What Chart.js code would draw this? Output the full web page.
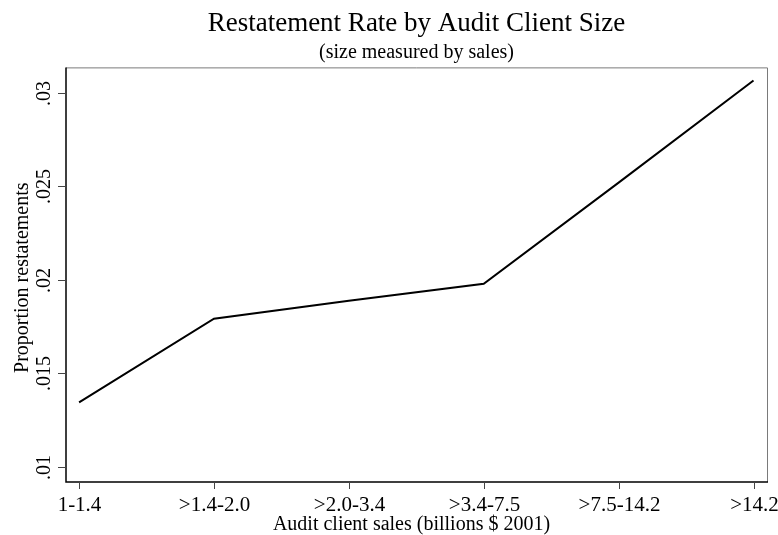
<!DOCTYPE html>
<html>
<head>
<meta charset="utf-8">
<script src="https://cdn.jsdelivr.net/npm/chart.js@4/dist/chart.umd.min.js"></script>
<style>
  html, body { margin: 0; padding: 0; background: #fff; }
  #wrap { width: 778px; height: 535px; }
</style>
</head>
<body>
<div id="wrap"><canvas id="chart"></canvas></div>
<script>
// chart data
let categories = ["1-1.4", ">1.4-2.0", ">2.0-3.4", ">3.4-7.5", ">7.5-14.2", ">14.2"];
let restateRate = [0.01346, 0.01793, 0.01889, 0.0198, 0.0252, 0.03066];
let yTicks = [0.01, 0.015, 0.02, 0.025, 0.03];
let yTickLabels = [".01", ".015", ".02", ".025", ".03"];

let serif = "'Liberation Serif', 'Times New Roman', serif";

// axes, ticks and labels drawn by hand so they sit like the Stata original
let axesPlugin = {
    id: "stataAxes",
    afterDraw: function(chart) {
        let ctx = chart.ctx;
        let xs = chart.scales.x, ys = chart.scales.y;
        let a = chart.chartArea;
        ctx.save();

        // outer box: top and right lighter
        ctx.strokeStyle = "#7a7a7a";
        ctx.lineWidth = 1;
        ctx.beginPath();
        ctx.moveTo(a.left, a.top + 0.5);
        ctx.lineTo(a.right + 0.5, a.top + 0.5);
        ctx.lineTo(a.right + 0.5, a.bottom);
        ctx.stroke();

        ctx.strokeStyle = "#000";
        ctx.lineWidth = 1.5;
        ctx.beginPath();
        ctx.moveTo(a.left, a.top);
        ctx.lineTo(a.left, a.bottom);
        ctx.lineTo(a.right + 1, a.bottom);
        ctx.stroke();

        // y ticks
        ctx.fillStyle = "#000";
        ctx.font = "20px " + serif;
        ctx.textAlign = "center";
        ctx.textBaseline = "middle";
        ctx.strokeStyle = "#444";
        ctx.lineWidth = 1;
        yTicks.forEach(function(v, i) {
            let py = Math.round(ys.getPixelForValue(v)) + 0.5;
            ctx.beginPath();
            ctx.moveTo(a.left - 8, py);
            ctx.lineTo(a.left, py);
            ctx.stroke();
            ctx.save();
            ctx.translate(a.left - 21, py);
            ctx.rotate(-Math.PI / 2);
            ctx.fillText(yTickLabels[i], 0, 0);
            ctx.restore();
        });

        // x ticks
        ctx.font = "21px " + serif;
        categories.forEach(function(c, i) {
            let px = Math.round(xs.getPixelForValue(i)) + 0.5;
            ctx.beginPath();
            ctx.moveTo(px, a.bottom);
            ctx.lineTo(px, a.bottom + 7);
            ctx.stroke();
            ctx.fillText(c, px, a.bottom + 23);
        });

        // axis titles
        ctx.font = "20px " + serif;
        ctx.fillText("Audit client sales (billions $ 2001)", (a.left + a.right) / 2 - 5, a.bottom + 43);
        ctx.save();
        ctx.translate(23, (a.top + a.bottom) / 2 + 3);
        ctx.rotate(-Math.PI / 2);
        ctx.fillText("Proportion restatements", 0, 0);
        ctx.restore();

        ctx.restore();
    }
};

new Chart(document.getElementById("chart"), {
    type: "line",
    data: {
        labels: categories,
        datasets: [{
            label: "Proportion restatements",
            data: restateRate.map(function(v, i) { return {x: i, y: v}; }),
            borderColor: "#000",
            borderWidth: 2,
            pointRadius: 0,
            fill: false,
            tension: 0
        }]
    },
    options: {
        responsive: true,
        maintainAspectRatio: false,
        animation: false,
        layout: {
            padding: {left: 66, right: 11, top: 0, bottom: 53}
        },
        plugins: {
            legend: {display: false},
            tooltip: {enabled: false},
            title: {
                display: true,
                text: "Restatement Rate by Audit Client Size",
                color: "#000",
                font: {family: serif, size: 27, weight: "normal"},
                padding: {top: 8, bottom: 0}
            },
            subtitle: {
                display: true,
                text: "(size measured by sales)",
                color: "#000",
                font: {family: serif, size: 20, weight: "normal"},
                padding: {top: 0, bottom: 3}
            }
        },
        scales: {
            x: {
                type: "linear",
                display: false,
                min: -0.097,
                max: 5.1
            },
            y: {
                display: false,
                min: 0.0092,
                max: 0.03136
            }
        }
    },
    plugins: [axesPlugin]
});
</script>
</body>
</html>
